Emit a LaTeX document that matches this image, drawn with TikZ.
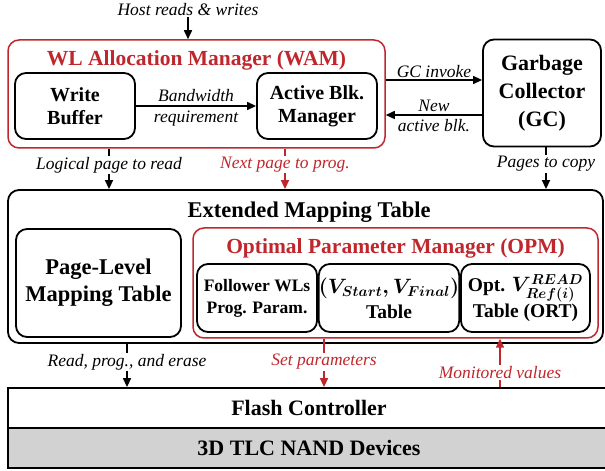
\documentclass[tikz,border=0pt]{standalone}
\usepackage{fontspec}
\setmainfont{Liberation Serif}
\usetikzlibrary{arrows.meta}
\definecolor{optred}{HTML}{C0272D}
\definecolor{nandgray}{HTML}{D2D2D2}

\begin{document}
\begin{tikzpicture}[x=1pt,y=1pt,
  box/.style={draw,line width=1.8pt,rounded corners=11pt,align=center,inner sep=0pt,
    font=\bfseries\fontsize{20}{23}\selectfont},
  redbox/.style={draw=optred,line width=1.5pt,rounded corners=11pt},
  bar/.style={draw,line width=1.8pt,minimum width=602pt,minimum height=40pt,
    font=\bfseries\fontsize{22}{24}\selectfont},
  title/.style={font=\bfseries\fontsize{21.5}{24}\selectfont},
  lbl/.style={font=\itshape\fontsize{17.5}{20}\selectfont,inner sep=1pt},
  arr/.style={line width=1.5pt,-{Triangle[length=9pt,width=8pt]}}]
  \path[use as bounding box,fill=white] (0,0) rectangle (605,471);
  % WL allocation manager
  \node[redbox,minimum width=377pt,minimum height=108pt] (wam) at (196.5,377) {};
  \node[title,text=optred] (wamt) at (196.5,411) {WL Allocation Manager (WAM)};
  \node[box,minimum width=120pt,minimum height=66pt] (wb) at (75,365) {Write\\Buffer};
  \node[box,minimum width=120pt,minimum height=66pt] (abm) at (317,365) {Active Blk.\\Manager};
  \node[box,minimum width=118pt,minimum height=107pt,
    font=\bfseries\fontsize{22}{28}\selectfont] (gc) at (542,378) {Garbage\\Collector\\(GC)};
  \node[lbl] (host) at (188,461) {Host reads \& writes};
  % extended mapping table
  \node[box,minimum width=595pt,minimum height=153pt] (emt) at (305.5,204.5) {};
  \node[title,font=\bfseries\fontsize{22.5}{24}\selectfont] (emtt) at (309,259) {Extended Mapping Table};
  \node[box,minimum width=165pt,minimum height=108pt,
    font=\bfseries\fontsize{22.5}{27}\selectfont] (plmt) at (98.5,188) {Page-Level\\Mapping Table};
  \node[redbox,minimum width=405pt,minimum height=110pt] (opm) at (395.5,188) {};
  \node[title,text=optred] (opmt) at (395.5,223) {Optimal Parameter Manager (OPM)};
  \node[box,minimum width=120pt,minimum height=68pt,
    font=\bfseries\fontsize{17.5}{22}\selectfont] (fwl) at (257,173) {Follower WLs\\Prog. Param.};
  \node[box,minimum width=134pt,minimum height=68pt,
    font=\bfseries\fontsize{19.5}{25}\selectfont] (vst) at (389,173)
    {{\boldmath$(V_{Start},V_{Final})$}\\Table};
  \node[box,minimum width=129pt,minimum height=68pt,
    font=\bfseries\fontsize{19.5}{26}\selectfont] (ort) at (525.5,173)
    {Opt. {\boldmath$V^{READ}_{Ref(i)}$}\\Table (ORT)};
  % flash
  \node[bar] (flash) at (309,63) {Flash Controller};
  \node[bar,fill=nandgray] (nand) at (309,23) {3D TLC NAND Devices};
  % connectors
  \coordinate (gi) at (0,391);
  \coordinate (na) at (0,356);
  \coordinate (lp) at (109,0);
  \coordinate (np) at (285,0);
  \coordinate (pc) at (546,0);
  \coordinate (rp) at (127,0);
  \coordinate (sp) at (324,0);
  \coordinate (mv) at (500,0);
  \draw[arr] (host.south) -- (host.south |- wam.north);
  \draw[arr] (wb) -- (abm) node[lbl,midway,above=3pt] {Bandwidth}
    node[lbl,midway,below=3pt] {requirement};
  \draw[arr] (gi -| wam.east) -- (gi -| gc.west) node[lbl,midway,above=1pt] {GC invoke};
  \draw[arr] (na -| gc.west) -- (na -| wam.east) node[lbl,midway,above=2pt] {New}
    node[lbl,midway,below=3pt] {active blk.};
  \draw[arr] (lp |- wam.south) -- (lp |- emt.north)
    node[lbl,pos=.4,fill=white] {Logical page to read};
  \draw[arr,optred] (np |- wam.south) -- (np |- emt.north)
    node[lbl,pos=.4,fill=white] {Next page to prog.};
  \draw[arr] (pc |- gc.south) -- (pc |- emt.north)
    node[lbl,pos=.4,fill=white] {Pages to copy};
  \draw[arr] (rp |- emt.south) -- (rp |- flash.north)
    node[lbl,pos=.42,fill=white] {Read, prog., and erase};
  \draw[arr,optred] (sp |- opm.south) -- (sp |- flash.north)
    node[lbl,pos=.48,fill=white] {Set parameters};
  \draw[arr,optred] (mv |- flash.north) -- (mv |- opm.south)
    node[lbl,pos=.3,fill=white] {Monitored values};
\end{tikzpicture}
\end{document}
